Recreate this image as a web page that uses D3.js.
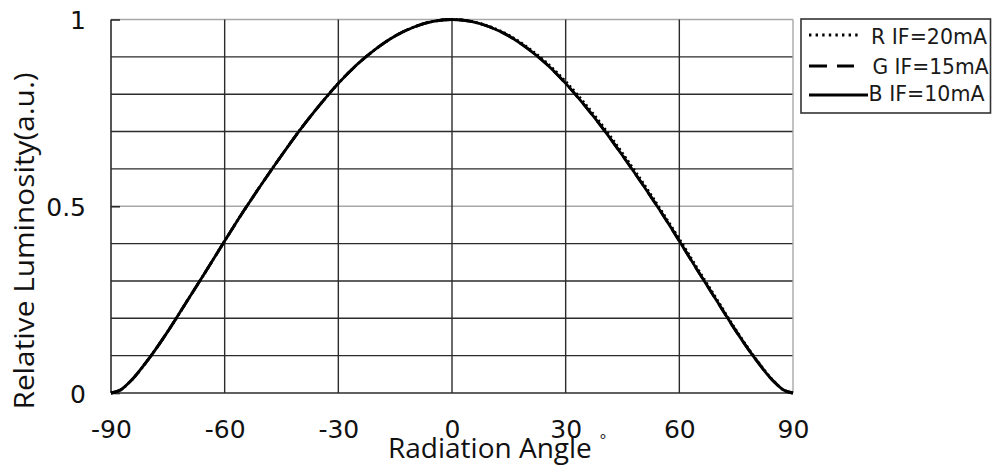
<!DOCTYPE html>
<html><head><meta charset="utf-8">
<script src="https://cdn.jsdelivr.net/npm/d3@7"></script>
<style>
html,body{margin:0;padding:0;background:#fff;}
svg{display:block;}
</style></head>
<body>
<svg id="chart" width="992" height="470"></svg>
<script>
// ---- data ----
const angles = [-90,-87.5,-85,-80,-75,-70,-65,-60,-55,-50,-45,-40,-35,-30,-25,-20,-15,-10,-5,0,5,10,15,20,25,30,35,40,45,50,55,60,65,70,75,80,85,87.5,90];
const seriesR = [0,0.008,0.03,0.092,0.165,0.245,0.325,0.407,0.487,0.563,0.636,0.706,0.770,0.829,0.880,0.922,0.956,0.980,0.995,1.0,0.995,0.981,0.958,0.925,0.884,0.834,0.776,0.712,0.642,0.569,0.492,0.412,0.330,0.249,0.168,0.094,0.031,0.008,0];
const seriesG = [0,0.008,0.03,0.092,0.165,0.245,0.325,0.407,0.487,0.563,0.636,0.706,0.770,0.829,0.880,0.922,0.956,0.980,0.995,1.0,0.995,0.980,0.956,0.922,0.880,0.829,0.770,0.706,0.636,0.563,0.487,0.407,0.325,0.245,0.165,0.092,0.03,0.008,0];
const seriesB = [0,0.008,0.03,0.092,0.165,0.245,0.325,0.407,0.487,0.563,0.636,0.706,0.770,0.829,0.880,0.922,0.956,0.980,0.995,1.0,0.995,0.980,0.956,0.922,0.880,0.829,0.770,0.706,0.636,0.563,0.487,0.407,0.325,0.245,0.165,0.092,0.03,0.008,0];
const seriesNames = ["R IF=20mA","G IF=15mA","B IF=10mA"];
const xTicks = [-90,-60,-30,0,30,60,90];
const xTickLabels = ["-90","-60","-30","0","30","60","90"];
const yTickLabels = [0,0.5,1];
const yGrid = [0.1,0.2,0.3,0.4,0.5,0.6,0.7,0.8,0.9,1.0];
const xTitle = "Radiation Angle";
const yTitle = "Relative Luminosity(a.u.)";

// ---- layout ----
const svg = d3.select("#chart");
const x = d3.scaleLinear().domain([-90,90]).range([111,793]);
const y = d3.scaleLinear().domain([0,1]).range([393,19.5]);
const dark = "#2b2b2b", light = "#a8a8a8";
const tickFont = "'DejaVu Sans', Verdana, sans-serif";
const titleFont = "'Open Sans', 'Noto Sans', sans-serif";

// grid: horizontal
const g = svg.append("g");
g.selectAll("line.h").data(yGrid).join("line")
  .attr("x1", x(-90)).attr("x2", x(90))
  .attr("y1", d => y(d)).attr("y2", d => y(d))
  .attr("stroke", d => (d === 0.5 || d === 1.0) ? light : dark)
  .attr("stroke-width", 1.4);
// vertical grid
g.selectAll("line.v").data(xTicks.filter(d => d !== -90 && d !== 90)).join("line")
  .attr("x1", d => x(d)).attr("x2", d => x(d))
  .attr("y1", y(0)).attr("y2", y(1))
  .attr("stroke", dark).attr("stroke-width", 1.4);
// right border (light)
g.append("line").attr("x1", x(90)).attr("x2", x(90)).attr("y1", y(0)).attr("y2", y(1))
  .attr("stroke", light).attr("stroke-width", 1.4);

// axes using d3 axis generators
const xAxis = d3.axisBottom(x).tickValues(xTicks).tickSize(0).tickPadding(0)
  .tickFormat((d, i) => xTickLabels[i]);
const xa = svg.append("g").attr("transform", `translate(0,${y(0)})`).call(xAxis);
xa.select(".domain").attr("stroke", dark).attr("stroke-width", 1.6).attr("d", `M${x(-90)},0H${x(90)}`);
xa.selectAll("text").attr("font-family", tickFont).attr("font-size", 25).attr("fill", "#111")
  .attr("y", 45).attr("dy", 0);

const yAxis = d3.axisLeft(y).tickValues(yTickLabels).tickSize(-9).tickPadding(0).tickFormat(d => d === 0 ? "0" : (d === 1 ? "1" : "0.5"));
const ya = svg.append("g").attr("transform", `translate(${x(-90)},0)`).call(yAxis);
ya.select(".domain").attr("stroke", dark).attr("stroke-width", 1.6).attr("d", `M0,${y(0)}V${y(1)}`);
ya.selectAll(".tick line").attr("stroke", dark).attr("stroke-width", 1.6);
ya.selectAll("text").attr("font-family", tickFont).attr("font-size", 25).attr("fill", "#111")
  .attr("x", -25).attr("dy", "0.36em");

// curves
const pts = arr => angles.map((a, i) => [a, arr[i]]);
const line = d3.line().x(d => x(d[0])).y(d => y(d[1])).curve(d3.curveMonotoneX);
const styles = [
  {data: seriesR, dash: "2,3"},
  {data: seriesG, dash: "14,8"},
  {data: seriesB, dash: null}
];
styles.forEach(s => {
  svg.append("path").attr("d", line(pts(s.data)))
    .attr("fill", "none").attr("stroke", "#000").attr("stroke-width", 2.8)
    .attr("stroke-dasharray", s.dash);
});

// titles
const xt = svg.append("text").attr("x", 388).attr("y", 458)
  .attr("font-family", titleFont).attr("font-size", 28).attr("fill", "#111").text(xTitle);
xt.append("tspan").attr("dx", 8).attr("dy", -13).attr("font-size", 15).text("°");

svg.append("text").attr("transform", "translate(34,241) rotate(-90)")
  .attr("text-anchor", "middle")
  .attr("font-family", titleFont).attr("font-size", 28).attr("fill", "#111")
  .attr("textLength", 337).attr("lengthAdjust", "spacingAndGlyphs")
  .text(yTitle);

// legend
const leg = svg.append("g");
leg.append("rect").attr("x", 801).attr("y", 19).attr("width", 189.5).attr("height", 94)
  .attr("fill", "#fff").attr("stroke", "#333").attr("stroke-width", 1.6);
const legRows = [
  {y: 35, ty: 43.5, x2: 861, tx: 871, dash: "2.4,4.2"},
  {y: 66, ty: 74, x2: 854, tx: 872.5, dash: "18,10"},
  {y: 95, ty: 101, x2: 868, tx: 868.5, dash: null}
];
legRows.forEach((r, i) => {
  leg.append("line").attr("x1", 809).attr("x2", r.x2).attr("y1", r.y).attr("y2", r.y)
    .attr("stroke", "#000").attr("stroke-width", 2.8).attr("stroke-dasharray", r.dash);
  leg.append("text").attr("x", r.tx).attr("y", r.ty)
    .attr("font-family", tickFont).attr("font-size", 21).attr("fill", "#1a1a1a")
    .attr("textLength", 116).attr("lengthAdjust", "spacingAndGlyphs")
    .text(seriesNames[i]);
});
</script>
</body></html>
